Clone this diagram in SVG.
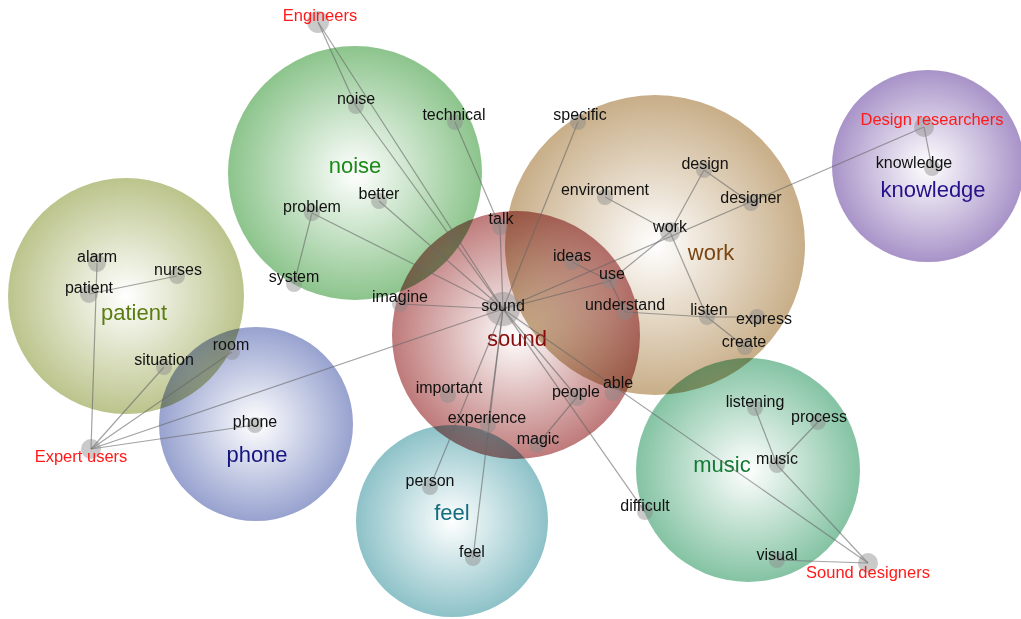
<svg xmlns="http://www.w3.org/2000/svg" width="1021" height="619" viewBox="0 0 1021 619">
<defs>
<radialGradient id="gNoise"><stop offset="0" stop-color="#ffffff"/><stop offset="1" stop-color="#8cc48c"/></radialGradient>
<radialGradient id="gPatient"><stop offset="0" stop-color="#ffffff"/><stop offset="1" stop-color="#bcc48c"/></radialGradient>
<radialGradient id="gPhone"><stop offset="0" stop-color="#ffffff"/><stop offset="1" stop-color="#97a2cf"/></radialGradient>
<radialGradient id="gSound"><stop offset="0" stop-color="#ffffff"/><stop offset="1" stop-color="#bf7a7a"/></radialGradient>
<radialGradient id="gWork"><stop offset="0" stop-color="#ffffff"/><stop offset="1" stop-color="#c8ae88"/></radialGradient>
<radialGradient id="gKnow"><stop offset="0" stop-color="#ffffff"/><stop offset="1" stop-color="#a893c8"/></radialGradient>
<radialGradient id="gMusic"><stop offset="0" stop-color="#ffffff"/><stop offset="1" stop-color="#84c3a3"/></radialGradient>
<radialGradient id="gFeel"><stop offset="0" stop-color="#ffffff"/><stop offset="1" stop-color="#8dc2c8"/></radialGradient>
</defs>
<style>
.cl{mix-blend-mode:multiply}
.cat{font-family:"Liberation Sans",Arial,sans-serif;font-size:22px;text-anchor:middle}
.w{font-family:"Liberation Sans",Arial,sans-serif;font-size:16px;fill:#111;text-anchor:middle}
.st{font-family:"Liberation Sans",Arial,sans-serif;font-size:16.5px;fill:#ff1a1a;text-anchor:middle}
.d{fill:#8a8a8a;fill-opacity:0.45}
#edges line{stroke:#666;stroke-opacity:0.6;stroke-width:1.2}
</style>
<rect width="1021" height="619" fill="#ffffff"/>
<g id="clusters">
<g id="c-noise"><circle class="cl" cx="355" cy="173" r="127" fill="url(#gNoise)"/></g>
<g id="c-patient"><circle class="cl" cx="126" cy="296" r="118" fill="url(#gPatient)"/></g>
<g id="c-phone"><circle class="cl" cx="256" cy="424" r="97" fill="url(#gPhone)"/></g>
<g id="c-work"><circle class="cl" cx="655" cy="245" r="150" fill="url(#gWork)"/></g>
<g id="c-sound"><circle class="cl" cx="516" cy="335" r="124" fill="url(#gSound)"/></g>
<g id="c-knowledge"><circle class="cl" cx="928" cy="166" r="96" fill="url(#gKnow)"/></g>
<g id="c-music"><circle class="cl" cx="748" cy="470" r="112" fill="url(#gMusic)"/></g>
<g id="c-feel"><circle class="cl" cx="452" cy="521" r="96" fill="url(#gFeel)"/></g>
</g>
<g id="categories">
<text class="cat" x="355" y="173" fill="#1b8a1b">noise</text>
<text class="cat" x="134" y="320" fill="#5a7c12">patient</text>
<text class="cat" x="257" y="462" fill="#15157e">phone</text>
<text class="cat" x="517" y="346" fill="#8a0a0a">sound</text>
<text class="cat" x="711" y="260" fill="#7a4510">work</text>
<text class="cat" x="933" y="197" fill="#25128a">knowledge</text>
<text class="cat" x="722" y="472" fill="#137a35">music</text>
<text class="cat" x="452" y="520" fill="#156e7e">feel</text>
</g>
<g id="edges">
<line x1="318" y1="22" x2="356" y2="106"/>
<line x1="318" y1="22" x2="503" y2="309"/>
<line x1="356" y1="106" x2="503" y2="309"/>
<line x1="379" y1="201" x2="503" y2="309"/>
<line x1="312" y1="213" x2="503" y2="309"/>
<line x1="312" y1="213" x2="294" y2="284"/>
<line x1="455" y1="122" x2="500" y2="227"/>
<line x1="500" y1="227" x2="503" y2="309"/>
<line x1="578" y1="122" x2="503" y2="309"/>
<line x1="400" y1="304" x2="503" y2="309"/>
<line x1="91" y1="449" x2="503" y2="309"/>
<line x1="91" y1="449" x2="97" y2="263"/>
<line x1="89" y1="294" x2="177" y2="276"/>
<line x1="91" y1="449" x2="164" y2="367"/>
<line x1="91" y1="449" x2="232" y2="352"/>
<line x1="91" y1="449" x2="255" y2="425"/>
<line x1="503" y1="309" x2="924" y2="127"/>
<line x1="924" y1="127" x2="932" y2="168"/>
<line x1="503" y1="309" x2="610" y2="281"/>
<line x1="572" y1="262" x2="610" y2="281"/>
<line x1="610" y1="281" x2="625" y2="312"/>
<line x1="610" y1="281" x2="670" y2="232"/>
<line x1="625" y1="312" x2="707" y2="317"/>
<line x1="707" y1="317" x2="757" y2="317"/>
<line x1="707" y1="317" x2="745" y2="347"/>
<line x1="670" y1="232" x2="707" y2="317"/>
<line x1="670" y1="232" x2="605" y2="197"/>
<line x1="670" y1="232" x2="704" y2="170"/>
<line x1="704" y1="170" x2="751" y2="203"/>
<line x1="503" y1="309" x2="868" y2="563"/>
<line x1="503" y1="309" x2="645" y2="512"/>
<line x1="503" y1="309" x2="577" y2="397"/>
<line x1="577" y1="397" x2="537" y2="445"/>
<line x1="503" y1="309" x2="488" y2="425"/>
<line x1="503" y1="309" x2="473" y2="558"/>
<line x1="503" y1="309" x2="430" y2="487"/>
<line x1="777" y1="465" x2="755" y2="408"/>
<line x1="777" y1="465" x2="818" y2="422"/>
<line x1="777" y1="465" x2="868" y2="563"/>
<line x1="777" y1="560" x2="868" y2="563"/>
</g>
<g id="nodes">
<g id="n-engineers"><circle class="d" cx="318" cy="22" r="11"/><text class="st" x="320" y="21">Engineers</text></g>
<g id="n-noise"><circle class="d" cx="356" cy="106" r="8"/><text class="w" x="356" y="104">noise</text></g>
<g id="n-technical"><circle class="d" cx="455" cy="122" r="8"/><text class="w" x="454" y="120">technical</text></g>
<g id="n-better"><circle class="d" cx="379" cy="201" r="8"/><text class="w" x="379" y="199">better</text></g>
<g id="n-problem"><circle class="d" cx="312" cy="213" r="8"/><text class="w" x="312" y="212">problem</text></g>
<g id="n-system"><circle class="d" cx="294" cy="284" r="8"/><text class="w" x="294" y="282">system</text></g>
<g id="n-talk"><circle class="d" cx="500" cy="227" r="8"/><text class="w" x="501" y="224">talk</text></g>
<g id="n-specific"><circle class="d" cx="578" cy="122" r="8"/><text class="w" x="580" y="120">specific</text></g>
<g id="n-environment"><circle class="d" cx="605" cy="197" r="8"/><text class="w" x="605" y="195">environment</text></g>
<g id="n-design"><circle class="d" cx="704" cy="170" r="8"/><text class="w" x="705" y="169">design</text></g>
<g id="n-designer"><circle class="d" cx="751" cy="203" r="8"/><text class="w" x="751" y="203">designer</text></g>
<g id="n-work"><circle class="d" cx="670" cy="232" r="10"/><text class="w" x="670" y="232">work</text></g>
<g id="n-ideas"><circle class="d" cx="572" cy="262" r="8"/><text class="w" x="572" y="261">ideas</text></g>
<g id="n-use"><circle class="d" cx="610" cy="281" r="8"/><text class="w" x="612" y="279">use</text></g>
<g id="n-understand"><circle class="d" cx="625" cy="312" r="8"/><text class="w" x="625" y="310">understand</text></g>
<g id="n-listen"><circle class="d" cx="707" cy="317" r="8"/><text class="w" x="709" y="315">listen</text></g>
<g id="n-express"><circle class="d" cx="757" cy="317" r="8"/><text class="w" x="764" y="324">express</text></g>
<g id="n-create"><circle class="d" cx="745" cy="347" r="8"/><text class="w" x="744" y="347">create</text></g>
<g id="n-sound"><circle class="d" cx="503" cy="309" r="17"/><text class="w" x="503" y="311">sound</text></g>
<g id="n-imagine"><circle class="d" cx="400" cy="304" r="8"/><text class="w" x="400" y="302">imagine</text></g>
<g id="n-important"><circle class="d" cx="448" cy="395" r="8"/><text class="w" x="449" y="393">important</text></g>
<g id="n-experience"><circle class="d" cx="488" cy="425" r="8"/><text class="w" x="487" y="423">experience</text></g>
<g id="n-people"><circle class="d" cx="577" cy="397" r="9"/><text class="w" x="576" y="397">people</text></g>
<g id="n-able"><circle class="d" cx="613" cy="393" r="8"/><text class="w" x="618" y="388">able</text></g>
<g id="n-magic"><circle class="d" cx="537" cy="445" r="8"/><text class="w" x="538" y="444">magic</text></g>
<g id="n-person"><circle class="d" cx="430" cy="487" r="8"/><text class="w" x="430" y="486">person</text></g>
<g id="n-feel"><circle class="d" cx="473" cy="558" r="8"/><text class="w" x="472" y="557">feel</text></g>
<g id="n-design-researchers"><circle class="d" cx="924" cy="127" r="10"/><text class="st" x="932" y="125">Design researchers</text></g>
<g id="n-knowledge"><circle class="d" cx="932" cy="168" r="8"/><text class="w" x="914" y="168">knowledge</text></g>
<g id="n-alarm"><circle class="d" cx="97" cy="263" r="9"/><text class="w" x="97" y="262">alarm</text></g>
<g id="n-nurses"><circle class="d" cx="177" cy="276" r="8"/><text class="w" x="178" y="275">nurses</text></g>
<g id="n-patient"><circle class="d" cx="89" cy="294" r="9"/><text class="w" x="89" y="293">patient</text></g>
<g id="n-situation"><circle class="d" cx="164" cy="367" r="8"/><text class="w" x="164" y="365">situation</text></g>
<g id="n-room"><circle class="d" cx="232" cy="352" r="8"/><text class="w" x="231" y="350">room</text></g>
<g id="n-phone"><circle class="d" cx="255" cy="425" r="8"/><text class="w" x="255" y="427">phone</text></g>
<g id="n-expert-users"><circle class="d" cx="91" cy="449" r="10"/><text class="st" x="81" y="462">Expert users</text></g>
<g id="n-listening"><circle class="d" cx="755" cy="408" r="8"/><text class="w" x="755" y="407">listening</text></g>
<g id="n-process"><circle class="d" cx="818" cy="422" r="8"/><text class="w" x="819" y="422">process</text></g>
<g id="n-music"><circle class="d" cx="777" cy="465" r="8"/><text class="w" x="777" y="464">music</text></g>
<g id="n-difficult"><circle class="d" cx="645" cy="512" r="8"/><text class="w" x="645" y="511">difficult</text></g>
<g id="n-visual"><circle class="d" cx="777" cy="560" r="8"/><text class="w" x="777" y="560">visual</text></g>
<g id="n-sound-designers"><circle class="d" cx="868" cy="563" r="10"/><text class="st" x="868" y="578">Sound designers</text></g>
</g>
</svg>
